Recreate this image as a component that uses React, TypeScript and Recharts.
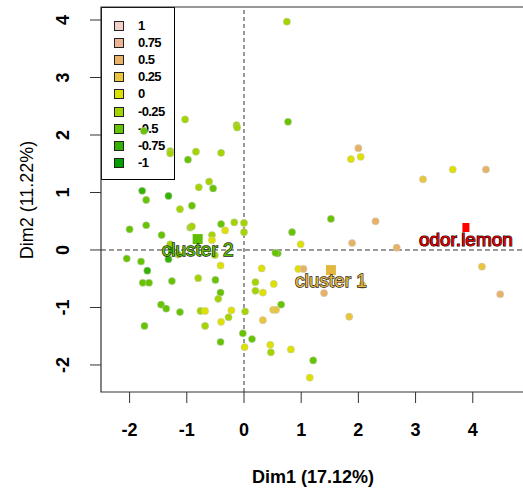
import React from "react";
import { ScatterChart, Scatter, XAxis, YAxis, ReferenceLine, ReferenceArea } from "recharts";

// individuals: coordinates on Dim1 / Dim2 and the supplementary value used for colouring
const dim1 = [
  0.75, 0.77, 2.0, 1.87, 2.04, 3.13, 3.65, 4.23, 0.0, 0.0, 1.52, 2.3, 0.84, 0.99, 1.89, 2.67, 0.59, 0.55, 0.31, 0.95,
  1.04, 0.2, 0.52, 0.2, 0.33, 2.07, 1.4, 4.16, 4.48, 0.65, 0.51, 0.56, 0.02, 0.33, 1.84, -0.02, 0.14, 0.01, 0.46, 0.47,
  0.82, 1.21, 1.15, -1.78, -1.71, -1.32, -0.79, -0.61, -0.54, -0.91, -1.12, -2.0, -1.71, -1.44, -0.94, -0.91, -0.4, -0.33, -0.17, -0.56,
  -0.56, -1.29, -1.32, -1.15, -1.27, -0.51, -0.41, -2.05, -1.8, -1.69, -1.77, -1.66, -1.26, -0.8, -0.5, -0.41, -0.45, -1.45, -1.36, -1.12,
  -0.76, -0.68, -0.22, -0.27, -0.4, -1.74, -0.68, -0.41, -1.03, -0.13, -0.12, -1.75, -1.29, -1.29, -0.84, -0.4, -0.98,
];
const dim2 = [
  3.97, 2.23, 1.77, 1.58, 1.62, 1.23, 1.4, 1.4, 0.47, 0.31, 0.54, 0.5, 0.31, 0.1, 0.12, 0.04, -0.06, -0.05, -0.32, -0.33,
  -0.33, -0.56, -0.59, -0.71, -0.74, -0.61, -0.75, -0.29, -0.77, -0.95, -1.04, -1.04, -1.07, -1.22, -1.16, -1.45, -1.55, -1.69, -1.65, -1.78,
  -1.73, -1.92, -2.22, 1.03, 0.87, 0.94, 1.09, 1.19, 1.07, 0.77, 0.71, 0.36, 0.43, 0.26, 0.39, 0.41, 0.45, 0.34, 0.48, 0.26,
  0.17, 0.1, -0.16, -0.08, 0.0, -0.09, -0.27, -0.15, -0.2, -0.36, -0.57, -0.57, -0.54, -0.49, -0.52, -0.74, -0.85, -0.95, -1.02, -1.08,
  -1.06, -1.06, -1.05, -1.17, -1.25, -1.32, -1.32, -1.6, 2.27, 2.17, 2.13, 2.07, 1.72, 1.68, 1.71, 1.69, 1.57,
];
const lemon = [
  -0.25, -0.5, 0.5, 0, 0, 0.25, 0, 0.5, -0.25, -0.25, -0.5, 0.5, -0.5, 0, 0.5, 0.5, -0.5, -0.5, 0, 0,
  0.5, -0.25, 0, -0.25, 0, 0.25, 0.5, 0.25, 0.5, -0.5, 0.25, 0.25, -0.25, 0.25, 0.25, -0.5, -0.5, 0, 0, -0.25,
  0, -0.5, 0, -0.75, -0.5, -0.75, -0.25, -0.25, -0.5, -0.5, -0.25, -0.5, -0.5, -0.5, -0.25, -0.25, -0.5, 0, -0.25, -0.25,
  0, -0.25, -0.75, -0.25, -0.75, -0.25, 0, -0.5, -0.5, -0.75, -0.5, -0.5, -0.5, -0.25, -0.5, -0.5, -0.25, -0.5, -0.5, -0.5,
  -0.25, 0, 0, -0.25, 0, -0.5, -0.25, -0.5, -0.25, -0.25, -0.25, -0.5, -0.25, -0.25, -0.25, -0.25, -0.5,
];

const clusterNames = ["cluster 1", "cluster 2"];
const clusterDim1 = [1.52, -0.81];
const clusterDim2 = [-0.35, 0.19];
const clusterLemon = [0.35, -0.5];

const suppNames = ["odor.lemon"];
const suppDim1 = [3.88];
const suppDim2 = [0.4];

const legendValues = [1, 0.75, 0.5, 0.25, 0, -0.25, -0.5, -0.75, -1];
const legendColors = ["#F2D0C8", "#EDB394", "#E8B266", "#E8C53C", "#DDE000", "#A3D400", "#66C300", "#33B300", "#00A000"];

const xTicks = [-2, -1, 0, 1, 2, 3, 4];
const yTicks = [-2, -1, 0, 1, 2, 3, 4];

const points = dim1.map((x, i) => ({ x, y: dim2[i], z: lemon[i] }));
const clusters = clusterNames.map((name, i) => ({ name, x: clusterDim1[i], y: clusterDim2[i], z: clusterLemon[i] }));
const supp = suppNames.map((name, i) => ({ name, x: suppDim1[i], y: suppDim2[i] }));

const FONT = '"Liberation Sans", Arial, sans-serif';

function colorOf(z: number) {
  let best = 0;
  legendValues.forEach((v, i) => {
    if (Math.abs(v - z) < Math.abs(legendValues[best] - z)) best = i;
  });
  return legendColors[best];
}

const Dot = (p: any) => (
  <circle cx={p.cx} cy={p.cy} r={3.6} fill={colorOf(p.payload.z)} stroke="#c8c8c8" strokeWidth={0.5} />
);

const ClusterMark = (p: any) => {
  const c = p.payload.z > 0 ? "#E3B740" : "#5FBE00";
  return (
    <g>
      <rect x={p.cx - 5} y={p.cy - 5} width={10} height={10} fill={c} />
      <text
        x={p.cx}
        y={p.cy + 10}
        dy="0.35em"
        textAnchor="middle"
        fontFamily={FONT}
        fontSize={19}
        fill={c}
        stroke="#222"
        strokeWidth={1.3}
        paintOrder="stroke"
      >
        {p.payload.name}
      </text>
    </g>
  );
};

const SuppMark = (p: any) => (
  <g>
    <rect x={p.cx - 3.5} y={p.cy - 4} width={7} height={9} fill="#FF0000" />
    <text
      x={p.cx}
      y={p.cy + 12}
      dy="0.35em"
      textAnchor="middle"
      fontFamily={FONT}
      fontSize={19}
      fill="#E00000"
      stroke="#000"
      strokeWidth={1.2}
      paintOrder="stroke"
    >
      {p.payload.name}
    </text>
  </g>
);

const YTick = (p: any) => (
  <text
    x={63}
    y={p.y}
    dy="0.36em"
    transform={`rotate(-90, 63, ${p.y})`}
    textAnchor="middle"
    fontFamily={FONT}
    fontSize={18}
    fontWeight="bold"
    fill="#000"
  >
    {p.payload.value}
  </text>
);

export default function App() {
  return (
    <div style={{ position: "absolute", left: 0, top: 0, width: 523, height: 489, overflow: "hidden", background: "#fff", fontFamily: FONT }}>
      {/* legend sits under the points, as in the R plot */}
      <div style={{ position: "absolute", left: 101, top: 7, width: 72, height: 171, border: "1px solid #000", background: "#fff" }}>
        {legendValues.map((v, i) => (
          <div key={v} style={{ position: "absolute", left: 12, top: 12 + i * 17.1, height: 12, display: "flex", alignItems: "center" }}>
            <div style={{ width: 8, height: 8, background: legendColors[i], border: "1px solid #222" }} />
            <span style={{ marginLeft: 14, fontSize: 13, fontWeight: "bold", lineHeight: "12px", letterSpacing: -0.6 }}>{v}</span>
          </div>
        ))}
      </div>
      <div style={{ position: "absolute", left: 0, top: 0 }}>
        <ScatterChart width={560} height={489} margin={{ top: 7, right: 25, bottom: 0, left: 0 }}>
          <XAxis
            type="number"
            dataKey="x"
            domain={[-2.5, 5.088]}
            allowDataOverflow
            ticks={xTicks}
            axisLine={false}
            tickSize={11}
            tickMargin={20}
            tickLine={{ stroke: "#333" }}
            height={97}
            tick={{ fontSize: 18, fontWeight: "bold", fill: "#000", fontFamily: FONT }}
          />
          <YAxis
            type="number"
            dataKey="y"
            domain={[-2.47, 4.226]}
            allowDataOverflow
            ticks={yTicks}
            axisLine={false}
            tickSize={11}
            tickLine={{ stroke: "#333" }}
            width={101}
            tick={<YTick />}
          />
          <ReferenceArea x1={-2.5} x2={5.088} y1={-2.47} y2={4.226} fill="none" stroke="#333" strokeWidth={1.2} ifOverflow="visible" />
          <ReferenceLine x={0} stroke="#333" strokeDasharray="4 3" />
          <ReferenceLine y={0} stroke="#333" strokeDasharray="5 3" />
          <Scatter data={points} shape={<Dot />} isAnimationActive={false} />
          <Scatter data={clusters} shape={<ClusterMark />} isAnimationActive={false} />
          <Scatter data={supp} shape={<SuppMark />} isAnimationActive={false} />
        </ScatterChart>
      </div>
      <div style={{ position: "absolute", left: 0, width: 626, top: 466, textAlign: "center", fontSize: 18, fontWeight: "bold", lineHeight: "22px" }}>
        Dim1 (17.12%)
      </div>
      <div
        style={{
          position: "absolute",
          left: 27 - 100,
          top: 200 - 11,
          width: 200,
          textAlign: "center",
          fontSize: 18,
          lineHeight: "22px",
          transform: "rotate(-90deg)",
        }}
      >
        Dim2 (11.22%)
      </div>
    </div>
  );
}
